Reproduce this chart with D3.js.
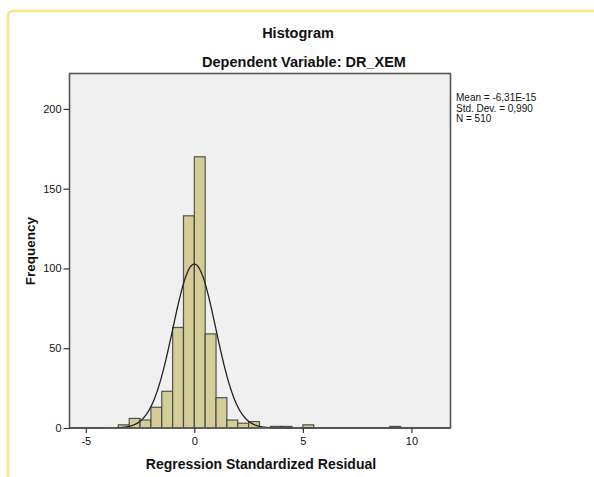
<!DOCTYPE html>
<html>
<head>
<meta charset="utf-8">
<script src="https://cdn.jsdelivr.net/npm/d3@7"></script>
<style>
  body { margin: 0; background: #fff; }
  svg { display: block; font-family: "Liberation Sans", Arial, sans-serif; }
</style>
</head>
<body>
<svg id="chart" width="594" height="477"></svg>
<script>
// ---- data ----
const binStarts = [-3.5, -3.0, -2.5, -2.0, -1.5, -1.0, -0.5, 0.0, 0.5, 1.0, 1.5, 2.0, 2.5, 3.5, 4.0, 5.0, 9.0];
const binCounts = [2, 6, 5, 13, 23, 63, 133, 170, 59, 19, 5, 3, 4, 1, 1, 2, 1];
const binWidth = 0.5;
const xTicks = [-5, 0, 5, 10];
const yTicks = [0, 50, 100, 150, 200];
const statMean = -6.31e-15;
const statSd = 0.990;
const statN = 510;
const statLabels = ["Mean = -6,31E-15", "Std. Dev. = 0,990", "N = 510"];
const titleText = "Histogram";
const subtitleText = "Dependent Variable: DR_XEM";
const xLabel = "Regression Standardized Residual";
const yLabel = "Frequency";

const svg = d3.select("#chart");

// outer yellow frame
svg.append("path")
  .attr("d", "M8,477 L8,16 Q8,11 13,11 L594,11")
  .attr("fill", "none")
  .attr("stroke", "#FFE58A")
  .attr("stroke-width", 2.5);

const plot = { left: 69.5, right: 450.5, top: 73.5, bottom: 428 };

const x = d3.scaleLinear().domain([-5.75, 11.8]).range([plot.left, plot.right]);
const y = d3.scaleLinear().domain([0, 222.2]).range([plot.bottom, plot.top]);

// plot background
svg.append("rect")
  .attr("x", plot.left).attr("y", plot.top)
  .attr("width", plot.right - plot.left).attr("height", plot.bottom - plot.top)
  .attr("fill", "#F0F0F0");

// bars
const bins = binStarts.map((s, i) => ({ x0: s, x1: s + binWidth, n: binCounts[i] }));
svg.append("g").selectAll("rect").data(bins).join("rect")
  .attr("x", d => x(d.x0))
  .attr("y", d => y(d.n))
  .attr("width", d => x(d.x1) - x(d.x0))
  .attr("height", d => y(0) - y(d.n))
  .attr("fill", "#D3CE98")
  .attr("stroke", "#3A3A3A")
  .attr("stroke-opacity", 0.85)
  .attr("stroke-width", 1.2);

// normal curve from stats
const curvePts = d3.range(-5.75, 11.8, 0.02).map(v => [v,
  statN * binWidth * Math.exp(-0.5 * Math.pow((v - statMean) / statSd, 2)) / (statSd * Math.sqrt(2 * Math.PI))]);
svg.append("path")
  .datum(curvePts)
  .attr("d", d3.line().x(d => x(d[0])).y(d => y(d[1])).curve(d3.curveBasis))
  .attr("fill", "none")
  .attr("stroke", "#222")
  .attr("stroke-width", 1.3);

// plot border
svg.append("rect")
  .attr("x", plot.left).attr("y", plot.top)
  .attr("width", plot.right - plot.left).attr("height", plot.bottom - plot.top)
  .attr("fill", "none")
  .attr("stroke", "#555")
  .attr("stroke-width", 1.6);

// axes
const xAxis = d3.axisBottom(x).tickValues(xTicks).tickSize(5).tickSizeOuter(0).tickFormat(d => String(d));
const gx = svg.append("g").attr("transform", `translate(0,${plot.bottom})`).call(xAxis);
gx.select(".domain").remove();
gx.selectAll(".tick line").attr("stroke", "#333").attr("stroke-width", 1.2);
gx.selectAll(".tick text").attr("font-size", 11).attr("fill", "#111").attr("dy", "0.85em")
  .attr("font-family", "Liberation Sans, Arial, sans-serif");

const yAxis = d3.axisLeft(y).tickValues(yTicks).tickSize(6).tickSizeOuter(0).tickPadding(2).tickFormat(d => String(d));
const gy = svg.append("g").attr("transform", `translate(${plot.left},0)`).call(yAxis);
gy.select(".domain").remove();
gy.selectAll(".tick line").attr("stroke", "#333").attr("stroke-width", 1.2);
gy.selectAll(".tick text").attr("font-size", 11).attr("fill", "#111")
  .attr("font-family", "Liberation Sans, Arial, sans-serif");

// titles
svg.append("text").attr("x", 298).attr("y", 38).attr("text-anchor", "middle")
  .attr("font-size", 14.5).attr("font-weight", "bold").attr("fill", "#111").text(titleText);
svg.append("text").attr("x", 304).attr("y", 67).attr("text-anchor", "middle")
  .attr("font-size", 14.5).attr("font-weight", "bold").attr("fill", "#111").text(subtitleText);

// axis labels
svg.append("text").attr("x", 261).attr("y", 469).attr("text-anchor", "middle")
  .attr("font-size", 14).attr("font-weight", "bold").attr("fill", "#111").text(xLabel);
svg.append("text").attr("transform", `translate(35,251) rotate(-90)`).attr("text-anchor", "middle")
  .attr("font-size", 13.5).attr("font-weight", "bold").attr("fill", "#111").text(yLabel);

// stats legend
svg.append("g").selectAll("text").data(statLabels).join("text")
  .attr("x", 456).attr("y", (d, i) => 101 + i * 10.5)
  .attr("font-size", 10).attr("fill", "#111").text(d => d);
</script>
</body>
</html>
